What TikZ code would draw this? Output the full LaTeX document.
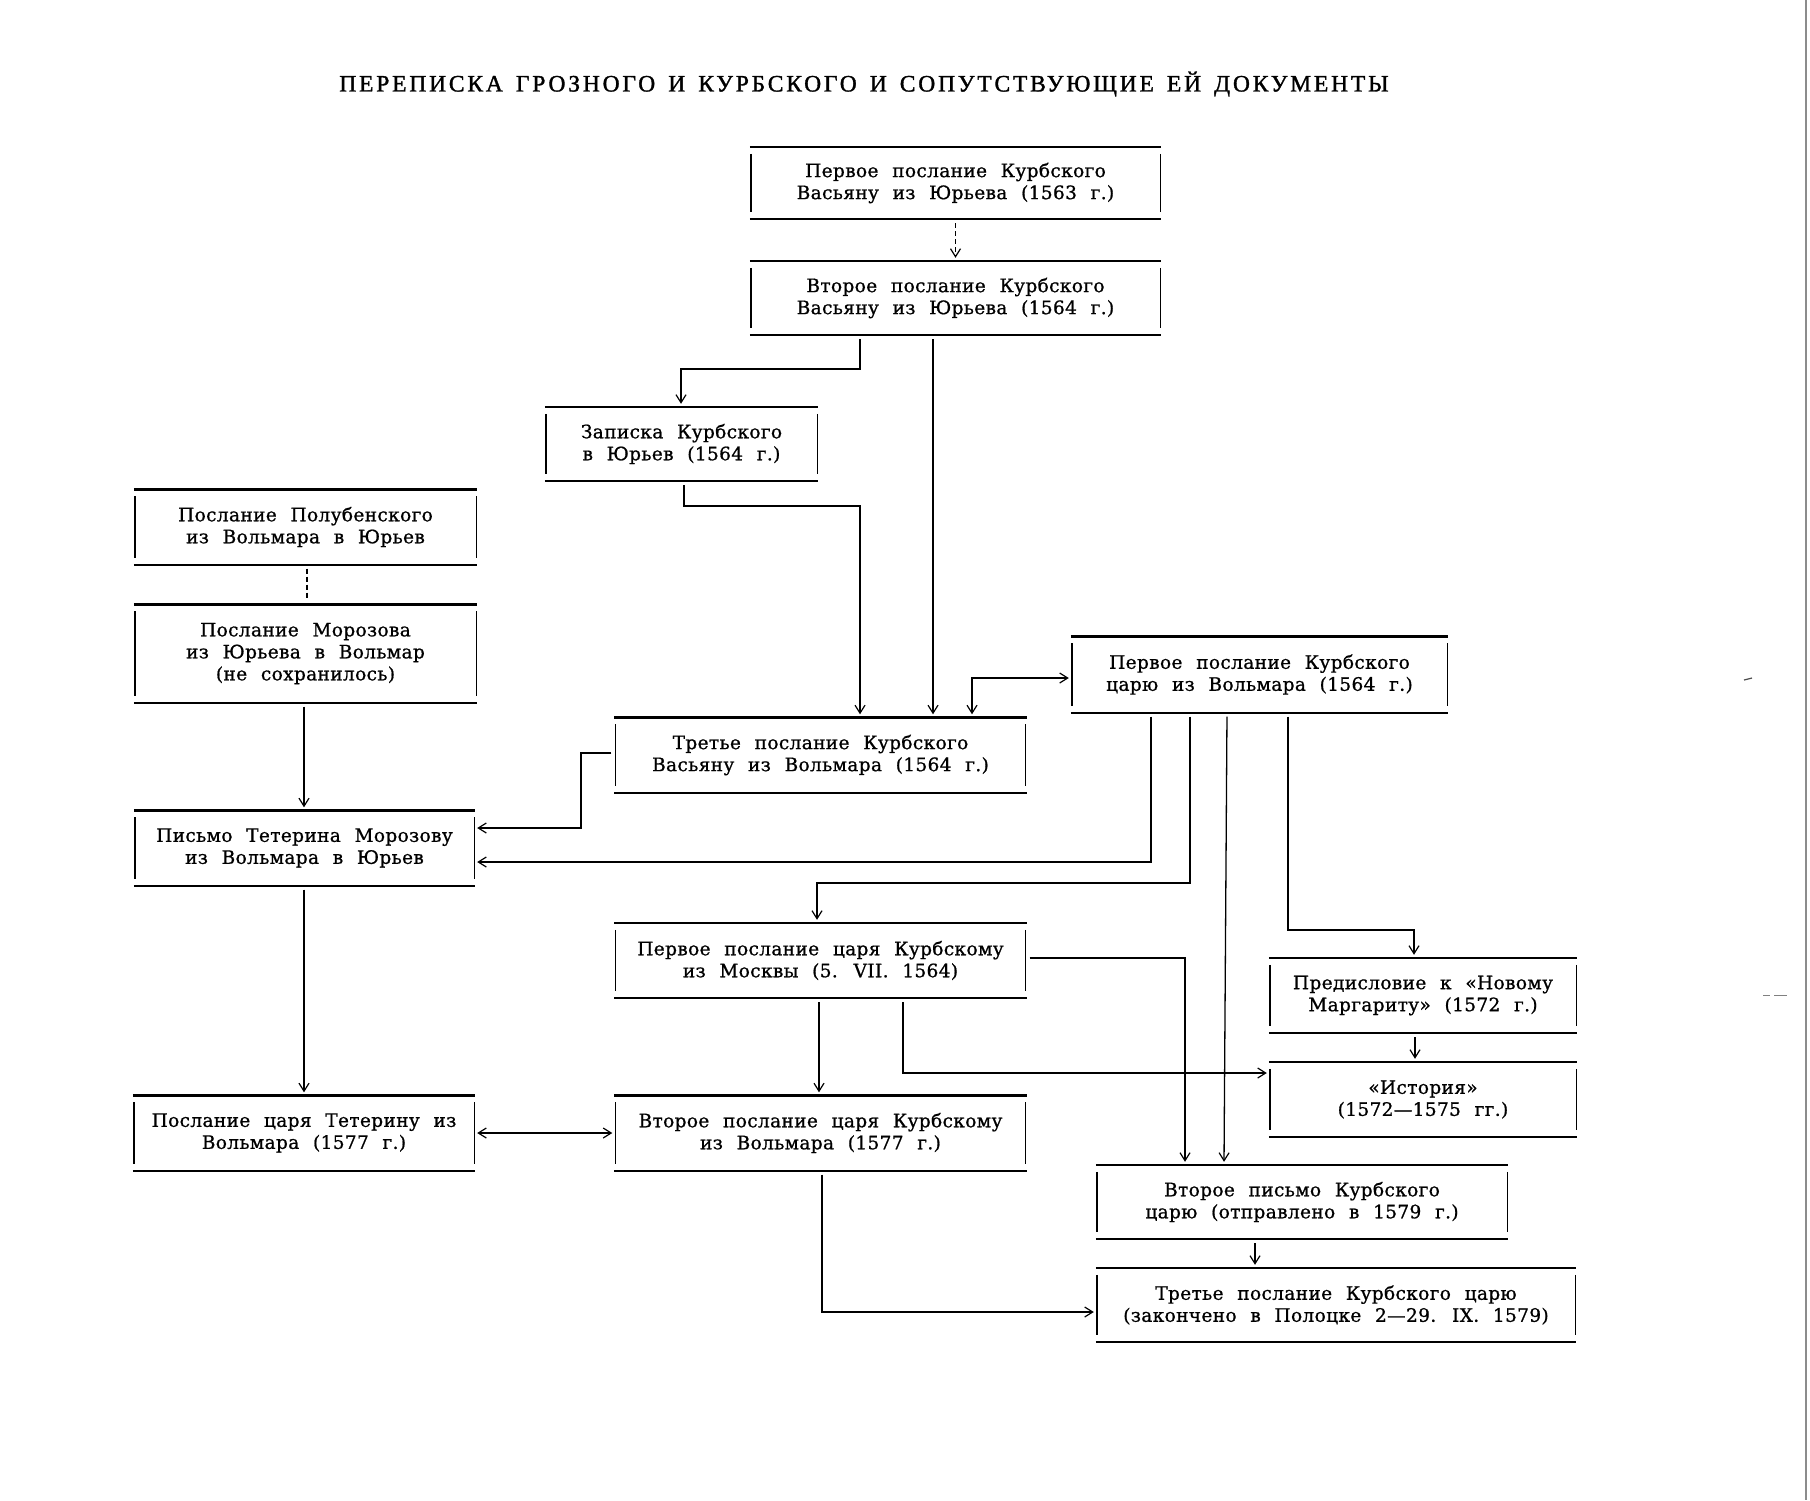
\documentclass[tikz,border=0pt]{standalone}
\usepackage{fontspec}
\setmainfont{DejaVu Serif}[WordSpace=2.2,LetterSpace=2,FakeBold=0.9]
\newfontfamily\titlefont{Liberation Serif}[LetterSpace=12,WordSpace=1.5,FakeBold=1.4]
\usetikzlibrary{arrows.meta}
\tikzset{
  doc/.style={inner sep=0pt, align=center, font=\fontsize{18.5}{22}\selectfont},
  conn/.style={line width=1.3pt, line join=miter},
  arr/.style={conn, -{Straight Barb[length=8pt,width=10pt,line width=1.2pt]}, shorten >=3pt, shorten <=4pt},
  arrb/.style={conn, {Straight Barb[length=8pt,width=10pt,line width=1.2pt]}-{Straight Barb[length=8pt,width=10pt,line width=1.2pt]}, shorten >=3pt, shorten <=3pt},
  hline/.style={line width=2.4pt},
  vline/.style={line width=1.4pt},
  dsh/.style={dash pattern=on 5pt off 3pt}
}
\newcommand\bxframe[1]{%
  \draw[hline] ([xshift=-1pt]#1.north west) -- ([xshift=1pt]#1.north east);
  \draw[hline] ([xshift=-1pt]#1.south west) -- ([xshift=1pt]#1.south east);
  \draw[vline] ([yshift=-7pt]#1.north west) -- ([yshift=7pt]#1.south west);
  \draw[vline] ([yshift=-7pt]#1.north east) -- ([yshift=7pt]#1.south east);}
\begin{document}
\begin{tikzpicture}[x=1pt,y=-1pt]
\useasboundingbox (0,0) rectangle (1810,1500);
\fill[white] (0,0) rectangle (1810,1500);
\node[inner sep=0pt, font=\titlefont\fontsize{23.5}{26}\selectfont] (title) at (864,84)
  {ПЕРЕПИСКА ГРОЗНОГО И КУРБСКОГО И СОПУТСТВУЮЩИЕ ЕЙ ДОКУМЕНТЫ};

\node[doc, minimum width=409pt, minimum height=72pt] (b1) at (955.5,183)
  {Первое послание Курбского\\Васьяну из Юрьева (1563 г.)};
\node[doc, minimum width=409pt, minimum height=74pt] (b2) at (955.5,298)
  {Второе послание Курбского\\Васьяну из Юрьева (1564 г.)};
\node[doc, minimum width=271pt, minimum height=74pt] (zap) at (681.5,444)
  {Записка Курбского\\в Юрьев (1564 г.)};
\node[doc, minimum width=341pt, minimum height=75pt] (pol) at (305.5,527)
  {Послание Полубенского\\из Вольмара в Юрьев};
\node[doc, minimum width=341pt, minimum height=98pt] (mor) at (305.5,653.5)
  {Послание Морозова\\из Юрьева в Вольмар\\(не сохранилось)};
\node[doc, minimum width=375pt, minimum height=76pt] (pcar) at (1259.5,674.5)
  {Первое послание Курбского\\царю из Вольмара (1564 г.)};
\node[doc, minimum width=410pt, minimum height=75pt] (tvas) at (820.5,755)
  {Третье послание Курбского\\Васьяну из Вольмара (1564 г.)};
\node[doc, minimum width=339pt, minimum height=75pt] (tet) at (304.5,848)
  {Письмо Тетерина Морозову\\из Вольмара в Юрьев};
\node[doc, minimum width=410pt, minimum height=75pt] (mosk) at (820.5,960.5)
  {Первое послание царя Курбскому\\из Москвы (5. VII. 1564)};
\node[doc, minimum width=306pt, minimum height=75pt] (pred) at (1423,995.5)
  {Предисловие к «Новому\\Маргариту» (1572 г.)};
\node[doc, minimum width=306pt, minimum height=75pt] (ist) at (1423,1099.5)
  {«История»\\(1572—1575 гг.)};
\node[doc, minimum width=340pt, minimum height=75pt] (tet2) at (304,1133)
  {Послание царя Тетерину из\\Вольмара (1577 г.)};
\node[doc, minimum width=410pt, minimum height=75pt] (vtc) at (820.5,1133)
  {Второе послание царя Курбскому\\из Вольмара (1577 г.)};
\node[doc, minimum width=410pt, minimum height=74pt] (vpis) at (1302,1202)
  {Второе письмо Курбского\\царю (отправлено в 1579 г.)};
\node[doc, minimum width=478pt, minimum height=74pt] (tcar) at (1336,1305)
  {Третье послание Курбского царю\\(закончено в Полоцке 2—29. IX. 1579)};

\foreach \n in {b1,b2,zap,pol,mor,pcar,tvas,tet,mosk,pred,ist,tet2,vtc,vpis,tcar}
  {\bxframe{\n}}

% connectors
\draw[arr, dsh] (b1.south) -- (b2.north);
\draw[arr] (b2.south -| 860,0) -- (860,369) -- (681,369) -- (zap.north -| 681,0);
\draw[arr] (b2.south -| 933,0) -- (tvas.north -| 933,0);
\draw[arr] (zap.south -| 684,0) -- (684,506) -- (860,506) -- (tvas.north -| 860,0);
\draw[arrb] (tvas.north -| 972,0) -- (972,678) -- (pcar.west |- 0,678);
\draw[arr] (tvas.west |- 0,753) -- (581,753) -- (581,828) -- (tet.east |- 0,828);
\draw[arr] (pcar.south -| 1151,0) -- (1151,862) -- (tet.east |- 0,862);
\draw[arr] (pcar.south -| 1190,0) -- (1190,883) -- (817,883) -- (mosk.north -| 817,0);
\draw[arr] (pcar.south -| 1227,0) -- (vpis.north -| 1224,0);
\draw[arr] (pcar.south -| 1288,0) -- (1288,930) -- (1414,930) -- (pred.north -| 1414,0);
\draw[arr] (mosk.east |- 0,958) -- (1185,958) -- (vpis.north -| 1185,0);
\draw[arr] (mosk.south -| 819,0) -- (vtc.north -| 819,0);
\draw[arr] (mosk.south -| 903,0) -- (903,1073) -- (ist.west |- 0,1073);
\draw[arr] (pred.south -| 1415,0) -- (ist.north -| 1415,0);
\draw[arr] (mor.south -| 304,0) -- (tet.north -| 304,0);
\draw[arr] (tet.south -| 304,0) -- (tet2.north -| 304,0);
\draw[arrb] (tet2.east) -- (vtc.west);
\draw[arr] (vtc.south -| 822,0) -- (822,1312) -- (tcar.west |- 0,1312);
\draw[arr] (vpis.south -| 1255,0) -- (tcar.north -| 1255,0);
\draw[conn, dsh, shorten <=4pt, shorten >=4pt] (pol.south -| 307,0) -- (mor.north -| 307,0);

% page edge and specks
\draw[black!45, line width=1.5pt] (1806,0) -- (1806,1500);
\draw[black!70, line width=1.2pt] (1744,680) -- (1752,678);
\draw[black!50, line width=1pt] (1763,995) -- (1770,995) (1774,995) -- (1787,995);
\end{tikzpicture}
\end{document}
